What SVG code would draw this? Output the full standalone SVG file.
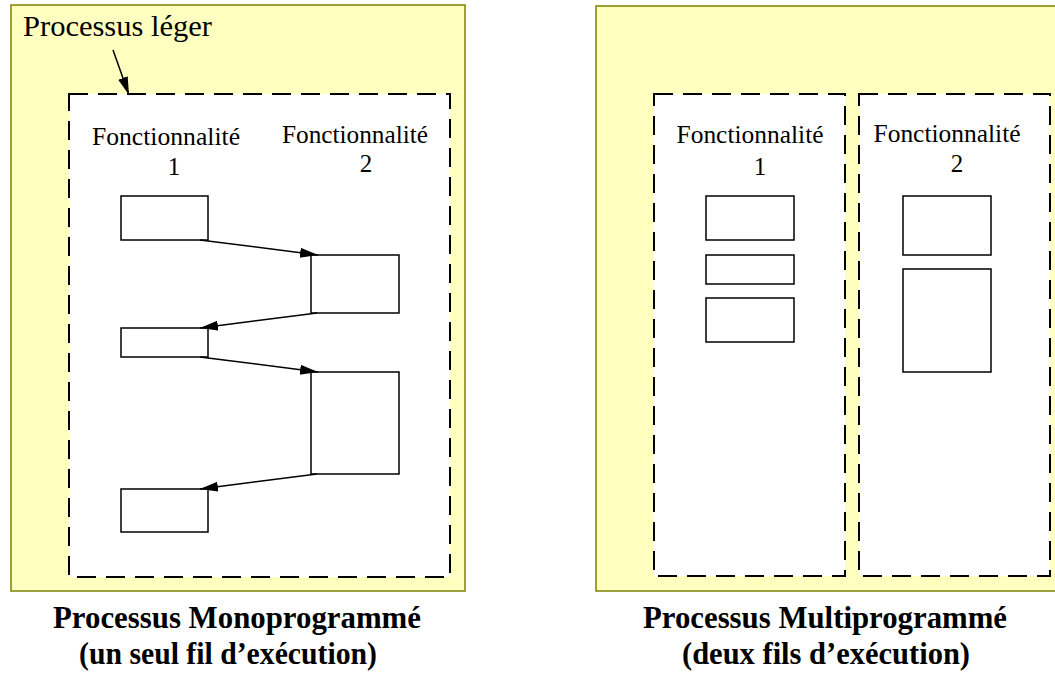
<svg xmlns="http://www.w3.org/2000/svg" width="1055" height="676" viewBox="0 0 1055 676">
<style>
.bg{fill:#ffffc0;stroke:#808000;stroke-width:1.5}
.th{fill:#ffffff;stroke:#000;stroke-width:2;stroke-dasharray:19 10}
.blk{fill:#ffffff;stroke:#000;stroke-width:1.5}
.lbl{font-family:"Liberation Serif",serif;font-size:25px;fill:#000;text-anchor:middle}
.ttl{font-family:"Liberation Serif",serif;font-size:30.5px;font-weight:bold;fill:#000;text-anchor:middle}
.con{stroke:#000;stroke-width:1.5;fill:none;marker-end:url(#ah)}
</style>
<defs>
<marker id="ah" markerUnits="userSpaceOnUse" markerWidth="20" markerHeight="12" refX="18" refY="5" orient="auto">
<path d="M0,0 L18,5 L0,10 z" fill="#000"/>
</marker>
</defs>
<g id="mono">
<rect class="bg" x="11" y="5" width="454" height="586"/>
<text x="23" y="36" font-family="Liberation Serif, serif" font-size="29" textLength="189" lengthAdjust="spacingAndGlyphs">Processus léger</text>
<rect class="th" x="69" y="94" width="381" height="483"/>
<text class="lbl" x="166" y="145" textLength="148" lengthAdjust="spacingAndGlyphs">Fonctionnalité</text>
<text class="lbl" x="174" y="175">1</text>
<text class="lbl" x="355" y="143" textLength="146" lengthAdjust="spacingAndGlyphs">Fonctionnalité</text>
<text class="lbl" x="366" y="172">2</text>
</g>
<g id="m1"><rect class="blk" x="121" y="196" width="87" height="44"/></g>
<g id="m2"><rect class="blk" x="311" y="255" width="88" height="58"/></g>
<g id="m3"><rect class="blk" x="121" y="328" width="87" height="29"/></g>
<g id="m4"><rect class="blk" x="311" y="372" width="88" height="102"/></g>
<g id="m5"><rect class="blk" x="121" y="489" width="87" height="43"/></g>
<g id="connectors">
<line class="con" x1="113" y1="50" x2="129" y2="95"/>
<line class="con" x1="200" y1="240" x2="318" y2="255"/>
<line class="con" x1="317" y1="313" x2="200" y2="328"/>
<line class="con" x1="200" y1="357" x2="318" y2="372"/>
<line class="con" x1="317" y1="474" x2="200" y2="489"/>
</g>
<g id="multi">
<rect class="bg" x="596" y="6" width="470" height="585"/>
<rect class="th" x="654" y="94" width="191" height="482"/>
<rect class="th" x="859" y="94" width="191" height="482"/>
<text class="lbl" x="750" y="143" textLength="147" lengthAdjust="spacingAndGlyphs">Fonctionnalité</text>
<text class="lbl" x="760" y="175">1</text>
<text class="lbl" x="947" y="142" textLength="147" lengthAdjust="spacingAndGlyphs">Fonctionnalité</text>
<text class="lbl" x="957" y="172">2</text>
</g>
<g id="t1a"><rect class="blk" x="706" y="196" width="88" height="44"/></g>
<g id="t1b"><rect class="blk" x="706" y="255" width="88" height="29"/></g>
<g id="t1c"><rect class="blk" x="706" y="298" width="88" height="44"/></g>
<g id="t2a"><rect class="blk" x="903" y="196" width="88" height="59"/></g>
<g id="t2b"><rect class="blk" x="903" y="269" width="88" height="103"/></g>
<g id="captions">
<text class="ttl" x="237" y="628" textLength="368" lengthAdjust="spacingAndGlyphs">Processus Monoprogrammé</text>
<text class="ttl" x="228" y="664" textLength="298" lengthAdjust="spacingAndGlyphs">(un seul fil d’exécution)</text>
<text class="ttl" x="825" y="628" textLength="364" lengthAdjust="spacingAndGlyphs">Processus Multiprogrammé</text>
<text class="ttl" x="826" y="664" textLength="288" lengthAdjust="spacingAndGlyphs">(deux fils d’exécution)</text>
</g>
</svg>
